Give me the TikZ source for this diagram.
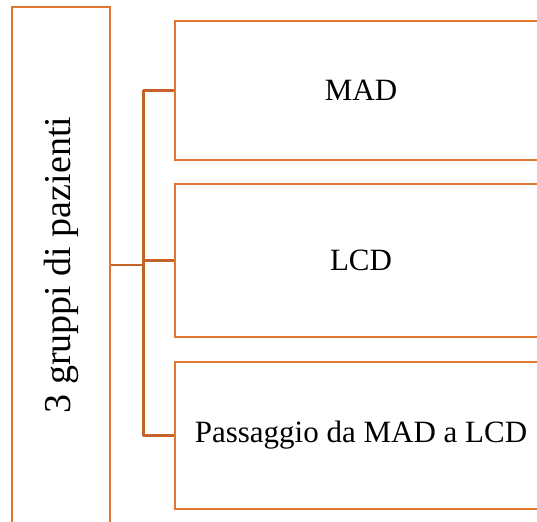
\documentclass[tikz,border=0pt]{standalone}
\usepackage{fontspec}
\setmainfont{Liberation Serif}
\usepackage{graphicx}

\definecolor{boxorange}{RGB}{224,118,48}
\definecolor{linkorange}{RGB}{196,98,40}

\tikzset{
    groupbox/.style={draw=boxorange, line width=2.6pt, inner sep=0pt, minimum width=98pt, minimum height=516pt, font=\fontsize{38}{42}\selectfont},
    itembox/.style={draw=boxorange, line width=2.6pt, inner sep=0pt, minimum width=372pt, font=\fontsize{31}{35}\selectfont},
    link/.style={draw=linkorange, line width=2.6pt}
}

\begin{document}
\begin{tikzpicture}[x=1pt, y=-1pt]
        \useasboundingbox (0,0) rectangle (537,521);

        % left box
        \node[groupbox] (grp) at (61,265) {\rotatebox{90}{3 gruppi di pazienti}};

        % right boxes
        \node[itembox, minimum height=139pt] (mad) at (361,90.5) {MAD};
        \node[itembox, minimum height=153pt] (lcd) at (361,260.5) {LCD};
        \node[itembox, minimum height=147pt] (pas) at (361,435.5) {Passaggio da MAD a LCD};

        % connectors
        \draw[link] (grp.east) -- ++(32,0) coordinate (hub);
        \draw[link] (hub |- mad.west) -- (hub |- pas.west);
        \foreach \n in {mad,lcd,pas}
            \draw[link] (hub |- \n.west) -- (\n.west);
    \end{tikzpicture}
\end{document}
